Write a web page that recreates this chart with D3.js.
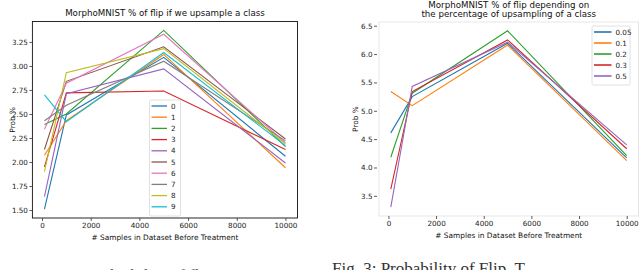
<!DOCTYPE html>
<html>
<head>
<meta charset="utf-8">
<script src="https://cdn.jsdelivr.net/npm/d3@7"></script>
<style>
  body { margin: 0; background: #fff; }
  svg { display: block; font-family: "DejaVu Sans", sans-serif; }
</style>
</head>
<body>
<svg id="chart" width="640" height="270"></svg>
<script>
const svg = d3.select("#chart");

// sample sizes (x) shared by both charts
const SAMPLES = [100, 1000, 5000, 10000];
const X_TICKS = [0, 2000, 4000, 6000, 8000, 10000];

// left chart: one series per upsampled class
const CLASS_NAMES = ["0", "1", "2", "3", "4", "5", "6", "7", "8", "9"];
const CLASS_VALUES = [
    [1.51, 2.49, 3.09, 2.06],
    [2.07, 2.43, 3.12, 1.94],
    [2.39, 2.50, 3.37, 2.16],
    [1.95, 2.72, 2.74, 2.13],
    [1.64, 2.71, 2.97, 1.99],
    [2.13, 2.84, 3.20, 2.24],
    [2.34, 2.82, 3.33, 2.20],
    [2.43, 2.59, 3.05, 2.22],
    [1.90, 2.93, 3.18, 2.19],
    [2.70, 2.42, 3.14, 2.17]
];
const LEFT_Y_TICKS = [1.50, 1.75, 2.00, 2.25, 2.50, 2.75, 3.00, 3.25];

// right chart: one series per upsampling percentage
const PCT_NAMES = ["0.05", "0.1", "0.2", "0.3", "0.5"];
const PCT_VALUES = [
    [4.61, 5.25, 6.19, 4.17],
    [5.34, 5.09, 6.16, 4.12],
    [4.18, 5.31, 6.41, 4.21],
    [3.62, 5.34, 6.25, 4.33],
    [3.30, 5.43, 6.21, 4.40]
];
const RIGHT_Y_TICKS = [3.5, 4.0, 4.5, 5.0, 5.5, 6.0, 6.5];

const COLORS = [
    '#1F77B4', '#FF7F0E', '#2CA02C', '#D62728', '#9467BD',
    '#8C564B', '#E377C2', '#7F7F7F', '#BCBD22', '#17BECF'
]; // tab10

function padded(extent) {
    // matplotlib-style 5% margins
    const m = (extent[1] - extent[0]) * 0.05;
    return [extent[0] - m, extent[1] + m];
}

function drawPanel(opts) {
    const g = svg.append("g");
    const allY = opts.values.flat();
    const x = d3.scaleLinear().domain(padded(d3.extent(SAMPLES))).range(opts.xRange);
    const y = d3.scaleLinear().domain(padded(d3.extent(allY))).range(opts.yRange);
    const [x0, x1] = opts.xRange;
    const [y1, y0] = opts.yRange;

    // lines
    const line = d3.line().x((d, i) => x(SAMPLES[i])).y(d => y(d));
    opts.values.forEach((vals, i) => {
        g.append("path")
            .attr("d", line(vals))
            .attr("fill", "none")
            .attr("stroke", COLORS[i])
            .attr("stroke-width", 1.1);
    });

    // frame
    g.append("rect")
        .attr("x", x0).attr("y", y0)
        .attr("width", x1 - x0).attr("height", y1 - y0)
        .attr("fill", "none")
        .attr("stroke", opts.frameColor)
        .attr("stroke-width", opts.frameWidth);

    // axes
    const xAxis = g.append("g")
        .attr("transform", `translate(0,${y1 + opts.xTickGap})`)
        .call(d3.axisBottom(x).tickValues(X_TICKS).tickFormat(d3.format("d")).tickSize(3).tickSizeOuter(0));
    const yAxis = g.append("g")
        .attr("transform", `translate(${x0 - opts.yTickGap},0)`)
        .call(d3.axisLeft(y).tickValues(opts.yTicks).tickFormat(d3.format(opts.yFormat)).tickSize(3).tickSizeOuter(0));
    [xAxis, yAxis].forEach(a => {
        a.select(".domain").remove();
        a.selectAll("text").attr("font-size", 7.2).attr("fill", "#222").attr("font-family", "DejaVu Sans");
        a.selectAll("line").attr("stroke", "#333").attr("stroke-width", 0.8);
    });
    xAxis.selectAll("text").attr("y", 5).attr("dy", "0.71em");
    yAxis.selectAll("text").attr("x", -4.5);

    // labels
    g.append("text")
        .attr("x", (x0 + x1) / 2).attr("y", opts.xLabelY)
        .attr("text-anchor", "middle").attr("font-size", 7.4).attr("fill", "#111")
        .text("# Samples in Dataset Before Treatment");
    g.append("text")
        .attr("transform", `translate(${opts.yLabelX},${(y0 + y1) / 2}) rotate(-90)`)
        .attr("text-anchor", "middle").attr("font-size", 7.4).attr("fill", "#111")
        .text("Prob %");
    opts.title.forEach((t, i) => {
        g.append("text")
            .attr("x", (x0 + x1) / 2).attr("y", opts.titleY + i * 9.5)
            .attr("text-anchor", "middle").attr("font-size", 8.7).attr("fill", "#111")
            .text(t);
    });

    // legend
    const lg = g.append("g").attr("transform", `translate(${opts.legend.x},${opts.legend.y})`);
    const step = opts.legend.step;
    lg.append("rect")
        .attr("x", 0).attr("y", 0)
        .attr("width", opts.legend.w).attr("height", step * opts.names.length + 4)
        .attr("rx", 1.5)
        .attr("fill", "#fff").attr("fill-opacity", 0.85)
        .attr("stroke", "#d8d8d8").attr("stroke-width", 0.8);
    opts.names.forEach((name, i) => {
        const cy = 6 + i * step;
        lg.append("line")
            .attr("x1", 2).attr("x2", 2 + opts.legend.handle)
            .attr("y1", cy).attr("y2", cy)
            .attr("stroke", COLORS[i]).attr("stroke-width", opts.legend.lw);
        lg.append("text")
            .attr("x", opts.legend.handle + 6).attr("y", cy)
            .attr("dy", "0.35em").attr("font-size", 7.2).attr("fill", "#222")
            .text(name);
    });
}

drawPanel({
    values: CLASS_VALUES, names: CLASS_NAMES,
    xRange: [32.4, 297.5], yRange: [218, 21.5],
    yTicks: LEFT_Y_TICKS, yFormat: ".2f",
    frameColor: "#111", frameWidth: 0.9, xTickGap: 0, yTickGap: 0,
    title: ["MorphoMNIST % of flip if we upsample a class"], titleY: 16,
    xLabelY: 239.5, yLabelX: 15,
    legend: { x: 149.5, y: 100, w: 31, step: 11.2, handle: 15.5, lw: 1.3 }
});

drawPanel({
    values: PCT_VALUES, names: PCT_NAMES,
    xRange: [379, 638.5], yRange: [216, 22],
    yTicks: RIGHT_Y_TICKS, yFormat: ".1f",
    frameColor: "#e4e4e4", frameWidth: 0.9, xTickGap: 0, yTickGap: 2,
    title: ["MorphoMNIST % of flip depending on", "the percentage of upsampling of a class"], titleY: 7.5,
    xLabelY: 238, yLabelX: 357.5,
    legend: { x: 592, y: 26, w: 38, step: 11, handle: 17.5, lw: 1.6 }
});

// captions of the page below, cut off at the bottom edge
svg.append("text")
    .attr("x", 96).attr("y", 281)
    .attr("font-family", "Liberation Serif, DejaVu Serif, serif").attr("font-size", 17)
    .attr("fill", "#555")
    .text("rob ability of flip");
svg.append("text")
    .attr("x", 332).attr("y", 274)
    .attr("font-family", "Liberation Serif, DejaVu Serif, serif").attr("font-size", 17)
    .attr("fill", "#333")
    .text("Fig. 3: Probability of Flip. T");
</script>
</body>
</html>
